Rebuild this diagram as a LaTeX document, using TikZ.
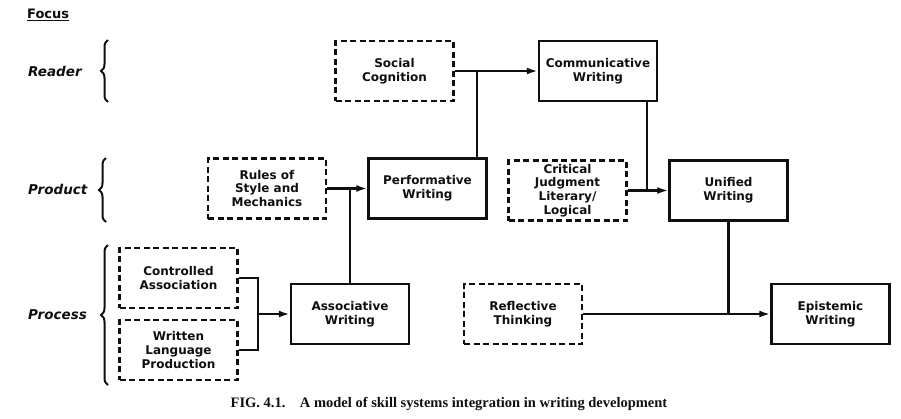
\documentclass[tikz,border=0pt]{standalone}
\usepackage{fontspec}
\usepackage{tikz}
\usetikzlibrary{positioning,arrows.meta,decorations.pathreplacing}
\newfontfamily\boxfont{DejaVu Sans}
\newfontfamily\capfont{Liberation Serif}
\definecolor{ink}{RGB}{15,15,15}

\begin{document}
\begin{tikzpicture}[x=1pt,y=-1pt,ink,
  b/.style={draw=ink,line width=2.3pt,minimum width=118pt,minimum height=60pt,
            align=center,inner sep=2pt,
            font=\boxfont\bfseries\fontsize{12}{13.8}\selectfont},
  d/.style={b,dash pattern=on 6pt off 3.5pt},
  a/.style={-{Latex[length=11pt,width=7pt]},line width=2.2pt},
  l/.style={line width=2.2pt},
  foc/.style={font=\boxfont\bfseries\itshape\fontsize{13.5}{15}\selectfont,anchor=west,inner sep=0pt},
  br/.style={decorate,decoration={brace,amplitude=7pt},line width=2pt}]
  \useasboundingbox (0,0) rectangle (901,418);
  % focus levels
  \node[font=\boxfont\bfseries\fontsize{13}{15}\selectfont,anchor=west,inner sep=0pt] (focus) at (27,15) {\underline{Focus}};
  \node[foc] (rdr) at (28,71) {Reader};
  \node[foc] (prd) at (28,189) {Product};
  \node[foc] (prc) at (28,315) {Process};
  \draw[br] (108,102) -- (108,40);
  \draw[br] (106,222) -- (106,158);
  \draw[br] (108,385) -- (108,245);
  % boxes
  \node[d] (soc) at (394.5,71) {Social\\Cognition};
  \node[b] (com) at (598,71) {Communicative\\Writing};
  \node[d] (rul) at (267,188.5) {Rules of\\Style and\\Mechanics};
  \node[b] (prf) at (427.5,188.5) {Performative\\Writing};
  \node[d] (crt) at (567.5,190.5) {Critical\\Judgment\\Literary/\\Logical};
  \node[b] (uni) at (728.5,190.5) {Unified\\Writing};
  \node[d] (ctl) at (178.5,278) {Controlled\\Association};
  \node[d] (wlp) at (178.5,350) {Written\\Language\\Production};
  \node[b] (asc) at (350,314) {Associative\\Writing};
  \node[d] (rfl) at (523,314) {Reflective\\Thinking};
  \node[b] (epi) at (830.5,314) {Epistemic\\Writing};
  % connectors
  \coordinate (j1) at (477,71);
  \coordinate (j3) at (647,190.5);
  \coordinate (k) at (258,314);
  \draw[a] (soc) -- (com);
  \draw[l] (j1) -- (j1 |- prf.north);
  \draw[a] (rul) -- (prf);
  \draw[l] (asc.north) -- (asc.north |- rul.east);
  \draw[a] (crt) -- (uni);
  \draw[l] (j3) -- (j3 |- com.south);
  \draw[a] (rfl) -- (epi);
  \draw[l] (uni.south) -- (uni.south |- epi.west);
  \draw[l] (ctl.east) -| (k) |- (wlp.east);
  \draw[a] (k) -- (asc.west);
  % caption
  \node[font=\capfont\bfseries\fontsize{14.5}{16}\selectfont] (cap) at (449,404)
    {FIG. 4.1.\quad A model of skill systems integration in writing development};
\end{tikzpicture}
\end{document}
